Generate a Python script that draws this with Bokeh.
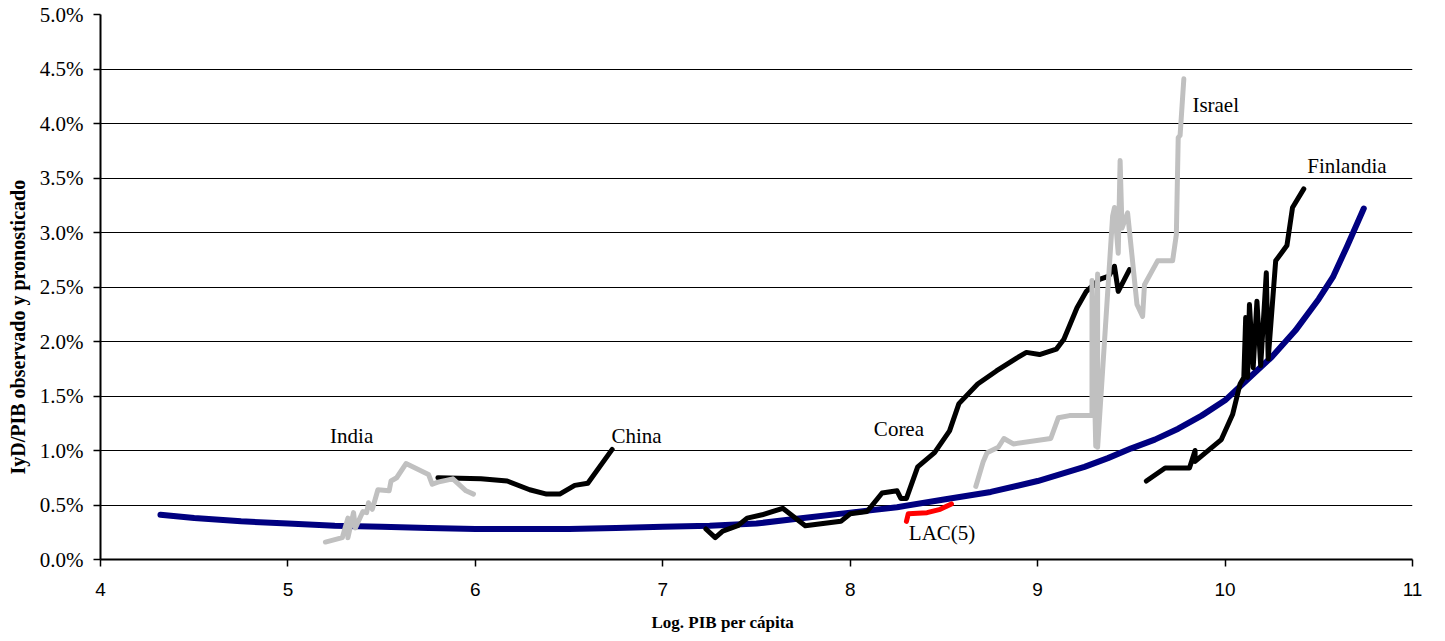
from bokeh.plotting import figure
from bokeh.models import PrintfTickFormatter, FixedTicker, Range1d, ColumnDataSource, Title
from bokeh.core.properties import value
from bokeh.embed import file_html
from bokeh.resources import INLINE

# ---- data (x = log GDP per capita, y = R&D/GDP in %) ----
fit_x = [4.32, 4.50, 4.75, 5.00, 5.25, 5.50, 5.75, 6.00, 6.25, 6.50, 6.75, 7.00, 7.25, 7.50,
         7.75, 8.00, 8.25, 8.50, 8.75, 9.00, 9.25, 9.375, 9.50, 9.625, 9.75, 9.875, 10.00,
         10.125, 10.25, 10.375, 10.50, 10.575, 10.65, 10.74]
fit_y = [0.41, 0.38, 0.35, 0.33, 0.31, 0.30, 0.29, 0.28, 0.28, 0.28, 0.29, 0.30, 0.31, 0.33,
         0.38, 0.43, 0.48, 0.55, 0.62, 0.72, 0.85, 0.93, 1.02, 1.10, 1.20, 1.32, 1.46,
         1.66, 1.86, 2.10, 2.39, 2.59, 2.87, 3.22]

india_x = [5.20, 5.29, 5.32, 5.32, 5.35, 5.36, 5.40, 5.42, 5.43, 5.45, 5.48, 5.54, 5.55, 5.58,
           5.63, 5.75, 5.77, 5.80, 5.88, 5.95, 5.99]
india_y = [0.16, 0.20, 0.38, 0.20, 0.43, 0.29, 0.44, 0.43, 0.52, 0.46, 0.64, 0.63, 0.72, 0.75,
           0.88, 0.78, 0.69, 0.71, 0.74, 0.63, 0.60]

china_x = [5.80, 6.03, 6.17, 6.29, 6.38, 6.45, 6.53, 6.60, 6.73]
china_y = [0.75, 0.74, 0.72, 0.64, 0.60, 0.60, 0.68, 0.70, 1.01]

corea_x = [7.23, 7.28, 7.32, 7.40, 7.45, 7.53, 7.64, 7.76, 7.95, 8.00, 8.09, 8.17, 8.25, 8.27,
           8.30, 8.36, 8.45, 8.53, 8.58, 8.68, 8.78, 8.89, 8.94, 9.01, 9.10, 9.14, 9.21, 9.26,
           9.33, 9.38, 9.41, 9.43, 9.49]
corea_y = [0.28, 0.20, 0.26, 0.31, 0.38, 0.41, 0.47, 0.31, 0.35, 0.42, 0.44, 0.61, 0.63, 0.56,
           0.56, 0.85, 0.98, 1.18, 1.43, 1.61, 1.73, 1.85, 1.90, 1.88, 1.93, 2.02, 2.31, 2.46,
           2.57, 2.60, 2.69, 2.46, 2.66]

israel_x = [8.67, 8.71, 8.73, 8.79, 8.82, 8.87, 9.07, 9.11, 9.17, 9.29, 9.29, 9.31, 9.32, 9.32,
            9.40, 9.41, 9.43, 9.44, 9.45, 9.48, 9.53, 9.56, 9.57, 9.64, 9.72, 9.74, 9.75, 9.76,
            9.78]
israel_y = [0.67, 0.90, 0.98, 1.03, 1.11, 1.06, 1.11, 1.30, 1.32, 1.32, 2.56, 1.04, 2.62, 1.03,
            3.15, 3.23, 2.81, 3.66, 3.04, 3.18, 2.34, 2.23, 2.52, 2.74, 2.74, 2.98, 3.87, 3.89,
            4.41]

finl_x = [9.58, 9.68, 9.81, 9.84, 9.84, 9.98, 10.04, 10.08, 10.10, 10.11, 10.12, 10.13, 10.15,
          10.17, 10.19, 10.22, 10.23, 10.27, 10.33, 10.36, 10.42]
finl_y = [0.72, 0.84, 0.84, 1.00, 0.90, 1.10, 1.33, 1.61, 1.67, 2.22, 1.67, 2.34, 1.76,
          2.37, 1.78, 2.63, 1.84, 2.74, 2.88, 3.23, 3.40]

lac_x = [8.30, 8.31, 8.41, 8.48, 8.54]
lac_y = [0.35, 0.42, 0.43, 0.46, 0.51]

label_text = ["India", "China", "Corea", "Israel", "Finlandia", "LAC(5)"]
label_x = [5.34, 6.86, 8.26, 9.95, 10.65, 8.49]
label_y = [1.13, 1.13, 1.20, 4.17, 3.61, 0.24]

y_ticks = [0.0, 0.5, 1.0, 1.5, 2.0, 2.5, 3.0, 3.5, 4.0, 4.5, 5.0]
x_ticks = [4, 5, 6, 7, 8, 9, 10, 11]

x_title = "Log. PIB per cápita"
y_title = "IyD/PIB observado y pronosticado"

# ---- figure ----
p = figure(frame_width=1312, frame_height=545, x_range=Range1d(4, 11), y_range=Range1d(0, 5),
           output_backend="svg", toolbar_location=None,
           min_border_left=100, min_border_right=30, min_border_top=14, min_border_bottom=82)
p.outline_line_color = None
p.background_fill_color = "white"
p.border_fill_color = "white"

p.xgrid.visible = False
p.ygrid.ticker = FixedTicker(ticks=y_ticks)
p.ygrid.grid_line_color = "black"
p.ygrid.grid_line_width = 1
p.ygrid.grid_line_alpha = 1

p.yaxis.ticker = FixedTicker(ticks=y_ticks)
p.yaxis.formatter = PrintfTickFormatter(format="%.1f%%")
p.xaxis.ticker = FixedTicker(ticks=x_ticks)

for ax in (p.xaxis[0], p.yaxis[0]):
    ax.axis_line_color = "black"
    ax.axis_line_width = 2
    ax.major_tick_line_color = "black"
    ax.major_tick_line_width = 1.5
    ax.major_tick_in = 0
    ax.major_tick_out = 7
    ax.minor_tick_line_color = None
    ax.major_label_text_color = "black"

p.yaxis.major_label_text_font = "Liberation Serif"
p.yaxis.major_label_text_font_size = "21px"
p.yaxis.major_label_standoff = 10

p.xaxis.major_label_text_font = "Liberation Sans"
p.xaxis.major_label_text_font_size = "19px"
p.xaxis.major_label_standoff = 16

# axis titles (the reference places them off-centre)
xt = Title(text=x_title, align="left", offset=551, vertical_align="top",
           standoff=0, text_font="Liberation Serif", text_font_style="bold",
           text_font_size="17px", text_color="black")
try:
    xt.padding = dict(left=0, right=0, top=14, bottom=0)
except Exception:
    xt.standoff = 14
p.add_layout(xt, "below")
p.add_layout(Title(text=y_title, align="left", offset=85, vertical_align="top",
                   standoff=12, text_font="Liberation Serif", text_font_style="bold",
                   text_font_size="20px", text_color="black"), "left")

# fitted curve
p.line(fit_x, fit_y, line_color="#000080", line_width=6, line_cap="round", line_join="round")
# black series
for xs, ys in ((china_x, china_y), (corea_x, corea_y), (finl_x, finl_y)):
    p.line(xs, ys, line_color="black", line_width=5, line_cap="round", line_join="round")
# gray series
for xs, ys in ((india_x, india_y), (israel_x, israel_y)):
    p.line(xs, ys, line_color="#C0C0C0", line_width=5, line_cap="round", line_join="round")
# LAC
p.line(lac_x, lac_y, line_color="#FF0000", line_width=5, line_cap="round", line_join="round")

src = ColumnDataSource(dict(x=label_x, y=label_y, t=label_text))
p.text(x="x", y="y", text="t", source=src, text_font=value("Liberation Serif"),
       text_font_size="21px", text_align="center", text_baseline="middle", text_color="black")

open("out.html", "w").write(file_html(p, INLINE))
